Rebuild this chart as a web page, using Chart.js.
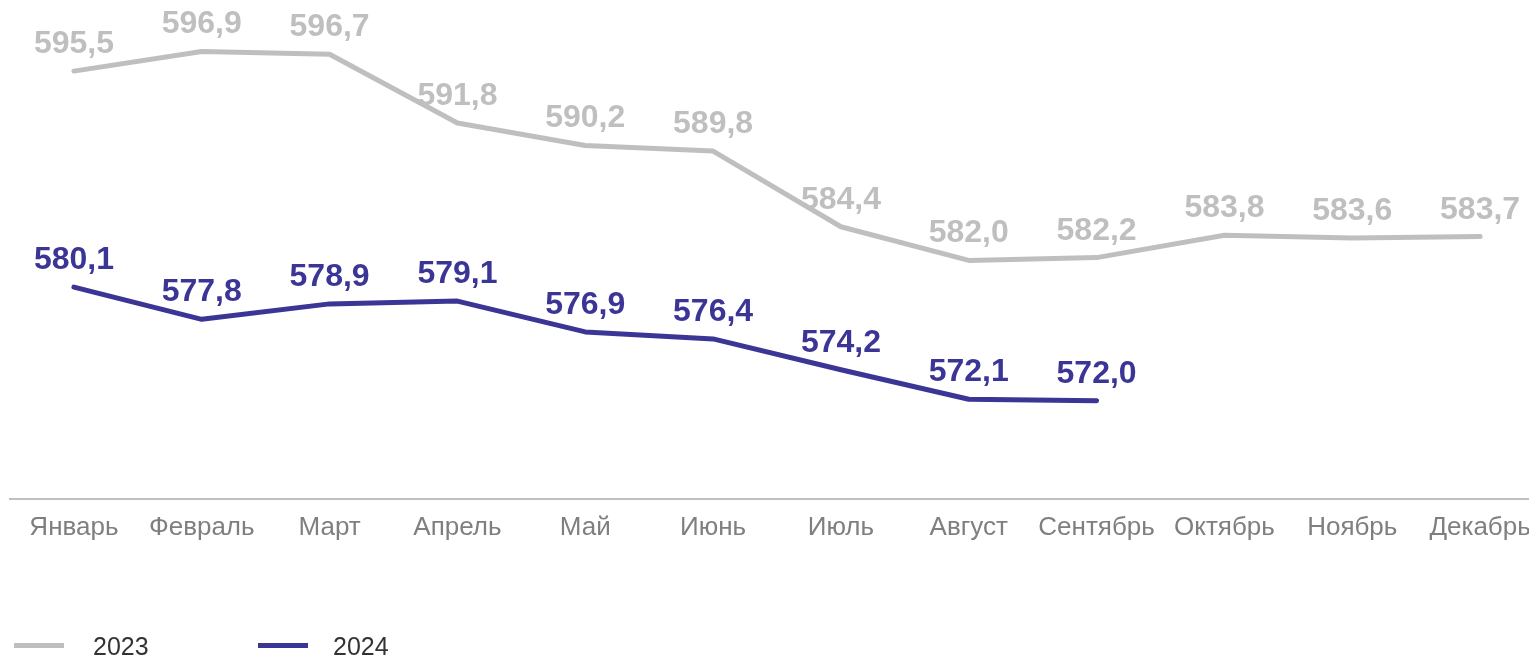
<!DOCTYPE html>
<html>
<head>
<meta charset="utf-8">
<script src="https://cdn.jsdelivr.net/npm/chart.js@4"></script>
<style>
html,body{margin:0;padding:0;background:#fff;overflow:hidden;}
#wrap{position:relative;width:1529px;height:656px;overflow:hidden;}
#c{position:absolute;left:0;top:0;}
.lg{position:absolute;font-family:"Liberation Sans",Arial,sans-serif;font-size:25px;color:#333;line-height:25px;}
.sw{position:absolute;height:5px;width:50px;}
</style>
</head>
<body>
<div id="wrap">
<canvas id="c" width="1545" height="656"></canvas>
<div class="sw" style="left:14px;top:643px;background:#bfbfbf"></div>
<div class="lg" style="left:93px;top:634px">2023</div>
<div class="sw" style="left:258px;top:643px;background:#3b3595"></div>
<div class="lg" style="left:333px;top:634px">2024</div>
</div>
<script>
const categories = ["Январь","Февраль","Март","Апрель","Май","Июнь","Июль","Август","Сентябрь","Октябрь","Ноябрь","Декабрь"];
const series2023 = [595.5,596.9,596.7,591.8,590.2,589.8,584.4,582.0,582.2,583.8,583.6,583.7];
const series2024 = [580.1,577.8,578.9,579.1,576.9,576.4,574.2,572.1,572.0];
const seriesNames = ["2023","2024"];

const GRAY = "#bfbfbf";
const NAVY = "#3b3595";
const FONT = '"Liberation Sans", Arial, sans-serif';

const labelPlugin = {
  id: "valueLabels",
  afterDatasetsDraw(chart) {
    const ctx = chart.ctx;
    ctx.save();
    ctx.font = "bold 32px " + FONT;
    ctx.textAlign = "center";
    ctx.textBaseline = "alphabetic";
    chart.data.datasets.forEach((ds, i) => {
      const meta = chart.getDatasetMeta(i);
      ctx.fillStyle = ds.borderColor;
      meta.data.forEach((pt, j) => {
        const v = ds.data[j];
        if (v == null) return;
        ctx.fillText(v.toFixed(1).replace(".", ","), pt.x, pt.y - 18);
      });
    });
    ctx.restore();
  }
};

new Chart(document.getElementById("c"), {
  type: "line",
  data: {
    labels: categories,
    datasets: [
      {label: seriesNames[0], data: series2023, borderColor: GRAY, backgroundColor: GRAY, borderWidth: 5, pointRadius: 0, tension: 0, borderCapStyle: "round", borderJoinStyle: "round"},
      {label: seriesNames[1], data: series2024, borderColor: NAVY, backgroundColor: NAVY, borderWidth: 5, pointRadius: 0, tension: 0, borderCapStyle: "round", borderJoinStyle: "round"}
    ]
  },
  options: {
    responsive: false,
    animation: false,
    layout: {padding: {left: 10, right: 1, top: 8, bottom: 100}},
    plugins: {legend: {display: false}, tooltip: {enabled: false}},
    scales: {
      y: {display: false, min: 565, max: 600},
      x: {
        offset: true,
        grid: {display: false, drawTicks: false},
        border: {display: true, color: GRAY, width: 2},
        ticks: {color: "#7f7f7f", font: {family: FONT, size: 26}, padding: 13, maxRotation: 0, autoSkip: false}
      }
    }
  },
  plugins: [labelPlugin]
});
</script>
</body>
</html>
